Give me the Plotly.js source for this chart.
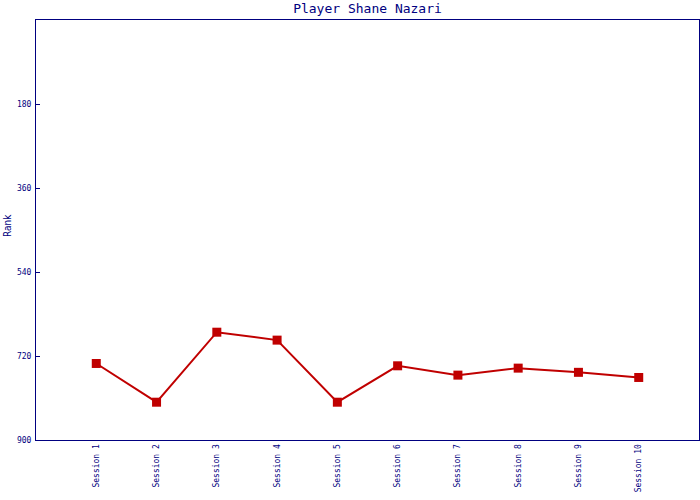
<!DOCTYPE html>
<html>
<head>
<meta charset="utf-8">
<script src="https://cdn.plot.ly/plotly-3.0.1.min.js"></script>
<style>html,body{margin:0;padding:0;background:#fff;}#chart{width:700px;height:500px;}</style>
</head>
<body>
<div id="chart"></div>
<script>
const sessions = ["Session 1","Session 2","Session 3","Session 4","Session 5","Session 6","Session 7","Session 8","Session 9","Session 10"];
const ranks = [736, 819, 669, 686, 819, 741, 761, 746, 755, 766];
const yTicks = [180, 360, 540, 720, 900];
const titleText = "Player Shane Nazari";
const yTitle = "Rank";

const navy = "#000080";
const trace = {
  x: sessions,
  y: ranks,
  type: "scatter",
  mode: "lines+markers",
  line: {color: "#c00000", width: 2},
  marker: {symbol: "square", size: 9, color: "#c00000"},
  hoverinfo: "x+y"
};
const layout = {
  width: 700, height: 500,
  margin: {l: 36, r: 1, t: 20, b: 60},
  paper_bgcolor: "#fff", plot_bgcolor: "#fff",
  showlegend: false,
  title: {text: titleText, font: {family: "DejaVu Sans Mono, monospace", size: 13, color: navy},
          x: 0.5, xref: "paper", y: 0.984, yref: "container", yanchor: "middle"},
  xaxis: {
    type: "category", range: [-1, 10],
    showgrid: false, zeroline: false,
    showline: true, linecolor: navy, linewidth: 1, mirror: true,
    ticks: "", tickangle: -90,
    tickfont: {family: "DejaVu Sans Mono, monospace", size: 8, color: navy}
  },
  yaxis: {
    range: [900, 0],
    tickvals: yTicks, ticktext: yTicks.map(String),
    showgrid: false, zeroline: false,
    showline: true, linecolor: navy, linewidth: 1, mirror: true,
    ticks: "inside", ticklen: 4, tickcolor: navy,
    ticklabelstandoff: 2,
    tickfont: {family: "DejaVu Sans Mono, monospace", size: 8, color: navy}
  },
  annotations: [{
    text: yTitle, textangle: -90, showarrow: false,
    xref: "paper", yref: "paper", x: -0.0437, y: 0.5095,
    xanchor: "center", yanchor: "middle",
    font: {family: "DejaVu Sans Condensed, DejaVu Sans, sans-serif", size: 10, color: navy}
  }]
};
Plotly.newPlot("chart", [trace], layout, {displayModeBar: false, staticPlot: true});
</script>
</body>
</html>
